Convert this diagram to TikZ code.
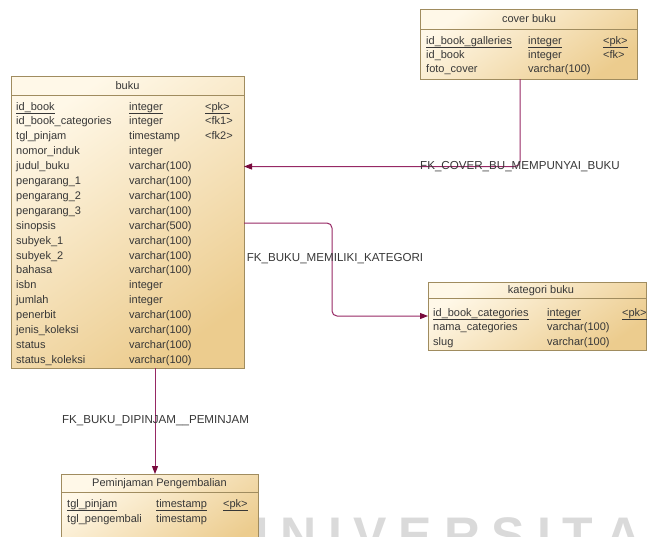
\documentclass[tikz,border=0pt]{standalone}
\usepackage{fontspec}
\setmainfont{Liberation Sans}
\usetikzlibrary{arrows.meta}
\definecolor{boxlight}{RGB}{255,248,232}
\definecolor{boxdark}{RGB}{236,204,142}
\definecolor{boxline}{RGB}{160,140,95}
\definecolor{txt}{RGB}{55,55,55}
\definecolor{fkline}{RGB}{150,40,100}
\definecolor{fktip}{RGB}{120,10,60}
\definecolor{wm}{RGB}{218,218,218}
\tikzset{
  tbl/.style={draw=boxline, line width=0.7pt, rectangle, anchor=north west, inner sep=0pt,
    shading=axis, top color=boxlight, bottom color=boxdark, shading angle=35},
  sep/.style={draw=boxline, line width=0.6pt},
  cell/.style={anchor=base west, inner sep=0pt, text=txt, font=\fontsize{11}{13}\selectfont},
  ttl/.style={anchor=center, inner sep=0pt, text=txt, font=\fontsize{11}{13}\selectfont},
  fk/.style={draw=fkline, line width=1pt, rounded corners=5pt,
    -{Triangle[length=8pt,width=6pt,fill=fktip,color=fktip]}},
  fklabel/.style={anchor=center, inner sep=0pt, text=txt, font=\fontsize{11.6}{13}\selectfont}
}
\newcommand{\wk}{\kern11.8pt}
\begin{document}
\begin{tikzpicture}[x=1pt,y=-1pt]
\useasboundingbox (0,0) rectangle (648,536);
% watermark
\node[anchor=base west, inner sep=0pt, text=wm, font=\fontsize{50}{50}\selectfont\bfseries] (wmark) at (232,552)
  {U\wk N\wk I\wk V\wk E\wk R\wk S\wk I\wk T\wk A\wk S};

% ---------- buku ----------
\node[tbl, minimum width=233pt, minimum height=292pt] (buku) at (11,76) {};
\draw[sep] (11,95) -- (244,95);
\node[ttl] (bukuT) at (127.5,86) {buku};
\foreach \n/\t/\k [count=\i from 0] in {
  {\underline{id\_book}}/{\underline{integer}}/{\underline{<pk>}},
  id\_book\_categories/integer/{<fk1>},
  tgl\_pinjam/timestamp/{<fk2>},
  nomor\_induk/integer/{},
  judul\_buku/varchar(100)/{},
  pengarang\_1/varchar(100)/{},
  pengarang\_2/varchar(100)/{},
  pengarang\_3/varchar(100)/{},
  sinopsis/varchar(500)/{},
  subyek\_1/varchar(100)/{},
  subyek\_2/varchar(100)/{},
  bahasa/varchar(100)/{},
  isbn/integer/{},
  jumlah/integer/{},
  penerbit/varchar(100)/{},
  jenis\_koleksi/varchar(100)/{},
  status/varchar(100)/{},
  status\_koleksi/varchar(100)/{}} {
  \node[cell] (bn\i) at (16,110+14.9*\i) {\n};
  \node[cell] (bt\i) at (129,110+14.9*\i) {\t};
  \node[cell] (bk\i) at (205,110+14.9*\i) {\k};
}

% ---------- cover buku ----------
\node[tbl, minimum width=217pt, minimum height=70pt] (cover) at (420,9) {};
\draw[sep] (420,29) -- (637,29);
\node[ttl] (coverT) at (529,19) {cover buku};
\node[cell] (cn0) at (426,44) {\underline{id\_book\_galleries}};
\node[cell] (ct0) at (528,44) {\underline{integer}};
\node[cell] (ck0) at (603,44) {\underline{<pk>}};
\node[cell] (cn1) at (426,58) {id\_book};
\node[cell] (ct1) at (528,58) {integer};
\node[cell] (ck1) at (603,58) {<fk>};
\node[cell] (cn2) at (426,72) {foto\_cover};
\node[cell] (ct2) at (528,72) {varchar(100)};

% ---------- kategori buku ----------
\node[tbl, minimum width=218pt, minimum height=68pt] (kat) at (428,282) {};
\draw[sep] (428,298) -- (646,298);
\node[ttl] (katT) at (541,291) {kategori buku};
\node[cell] (kn0) at (433,316) {\underline{id\_book\_categories}};
\node[cell] (kt0) at (547,316) {\underline{integer}};
\node[cell] (kk0) at (622,316) {\underline{<pk>}};
\node[cell] (kn1) at (433,330) {nama\_categories};
\node[cell] (kt1) at (547,330) {varchar(100)};
\node[cell] (kn2) at (433,345) {slug};
\node[cell] (kt2) at (547,345) {varchar(100)};

% ---------- Peminjaman Pengembalian ----------
\node[tbl, minimum width=197pt, minimum height=80pt] (pem) at (61,474) {};
\draw[sep] (61,492) -- (258,492);
\node[ttl] (pemT) at (159.5,484) {Peminjaman Pengembalian};
\node[cell] (pn0) at (67,507) {\underline{tgl\_pinjam}};
\node[cell] (pt0) at (156,507) {\underline{timestamp}};
\node[cell] (pk0) at (223,507) {\underline{<pk>}};
\node[cell] (pn1) at (67,522) {tgl\_pengembali};
\node[cell] (pt1) at (156,522) {timestamp};

% ---------- connectors ----------
\coordinate (c1a) at (520,79);
\coordinate (c1b) at (244,166.5);
\draw[fk] (c1a) |- (c1b);
\node[fklabel] (l1) at (520,167) {FK\_COVER\_BU\_MEMPUNYAI\_BUKU};

\coordinate (c2a) at (244,223);
\coordinate (c2m) at (332,223);
\coordinate (c2b) at (428,316);
\draw[fk] (c2a) -- (c2m) |- (c2b);
\node[fklabel] (l2) at (335,259) {FK\_BUKU\_MEMILIKI\_KATEGORI};

\coordinate (c3a) at (155,368);
\coordinate (c3b) at (155,474);
\draw[fk] (c3a) -- (c3b);
\node[fklabel] (l3) at (155.5,421) {FK\_BUKU\_DIPINJAM\_\_PEMINJAM};
\end{tikzpicture}
\end{document}
